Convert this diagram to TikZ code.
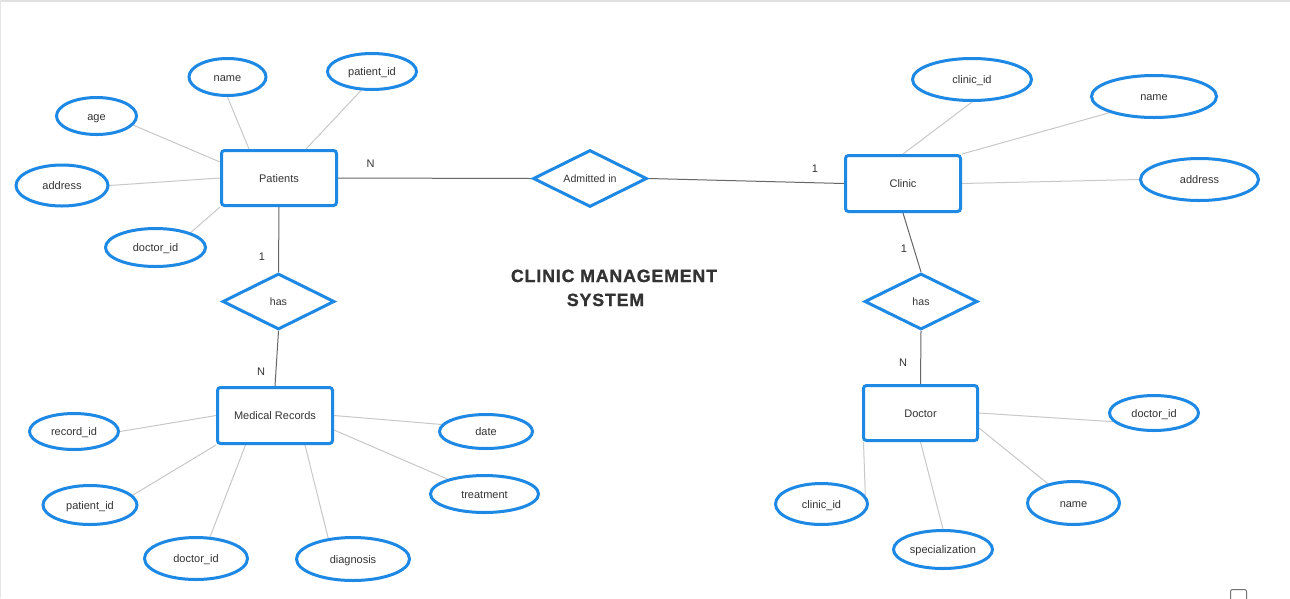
\documentclass[tikz,border=0pt]{standalone}
\usepackage{fontspec}
\setmainfont{Liberation Sans}
\usetikzlibrary{shapes.geometric,calc,backgrounds}
\definecolor{erblue}{HTML}{1E88E5}
\definecolor{txt}{HTML}{333333}
\definecolor{rellc}{HTML}{666666}
\definecolor{attrlc}{HTML}{C8C8C8}
\begin{document}
\begin{tikzpicture}[x=1pt,y=-1pt,
  entity/.style={draw=erblue, line width=3pt, rounded corners=3pt, fill=white, inner sep=0pt,
    text=txt, font=\fontsize{11}{13}\selectfont, text height=10.5pt, text depth=2pt},
  attrib/.style={ellipse, draw=erblue, line width=3pt, fill=white, inner sep=0pt,
    text=txt, font=\fontsize{11}{13}\selectfont, text height=10.5pt, text depth=2pt},
  relship/.style={diamond, aspect=2, draw=erblue, line width=3pt, fill=white, inner sep=0pt,
    text=txt, font=\fontsize{10.6}{13}\selectfont, text height=10.5pt, text depth=2pt},
  card/.style={text=txt, font=\fontsize{11}{13}\selectfont, inner sep=0pt},
  titletext/.style={text=txt, font=\fontsize{17.7}{22}\selectfont\bfseries\addfontfeature{LetterSpace=5,FakeBold=1.2}, inner sep=0pt},
  relline/.style={draw=rellc, line width=1pt},
  attrline/.style={draw=attrlc, line width=1pt}
]
\path[use as bounding box] (0,0) rectangle (1290,598);
\path[clip] (0,0) rectangle (1290,598);

% Entities
\node[entity, minimum width=115pt, minimum height=55pt] (pat) at (279,178) {Patients};
\node[entity, minimum width=115pt, minimum height=56pt] (cli) at (903,183.5) {Clinic};
\node[entity, minimum width=115pt, minimum height=56pt] (mr) at (275,415.5) {Medical Records};
\node[entity, minimum width=114pt, minimum height=55pt] (doc) at (920.5,413) {Doctor};

% Relationships
\node[relship, minimum width=114pt, minimum height=57pt] (adm) at (590,178.5) {Admitted in};
\node[relship, minimum width=112pt, minimum height=56pt] (hasl) at (278.5,301.5) {has};
\node[relship, minimum width=113pt, minimum height=56pt] (hasr) at (921,301.5) {has};

% Patients attributes
\node[attrib, minimum width=77pt, minimum height=37pt] (pname) at (227.5,77) {name};
\node[attrib, minimum width=89pt, minimum height=36pt] (ppid) at (372,71.5) {patient\_id};
\node[attrib, minimum width=80pt, minimum height=37pt] (page) at (96.5,116) {age};
\node[attrib, minimum width=92pt, minimum height=41pt] (paddr) at (62,185.5) {address};
\node[attrib, minimum width=100pt, minimum height=38pt] (pdid) at (155.5,247.5) {doctor\_id};

% Clinic attributes
\node[attrib, minimum width=119pt, minimum height=42pt] (cid) at (972,79.5) {clinic\_id};
\node[attrib, minimum width=125pt, minimum height=42pt] (cname) at (1154,96.5) {name};
\node[attrib, minimum width=118pt, minimum height=42pt] (caddr) at (1199.5,179.5) {address};

% Medical Records attributes
\node[attrib, minimum width=89pt, minimum height=36pt] (rid) at (74,431.5) {record\_id};
\node[attrib, minimum width=94pt, minimum height=39pt] (rpid) at (90,505) {patient\_id};
\node[attrib, minimum width=103pt, minimum height=42pt] (rdid) at (196,558.5) {doctor\_id};
\node[attrib, minimum width=113pt, minimum height=43pt] (rdiag) at (353,559) {diagnosis};
\node[attrib, minimum width=93pt, minimum height=34pt] (rdate) at (486,431.5) {date};
\node[attrib, minimum width=108pt, minimum height=37pt] (rtreat) at (484.5,494) {treatment};

% Doctor attributes
\node[attrib, minimum width=89pt, minimum height=35pt] (did) at (1154,413) {doctor\_id};
\node[attrib, minimum width=92pt, minimum height=43pt] (dname) at (1073.5,503) {name};
\node[attrib, minimum width=92pt, minimum height=41pt] (dcid) at (821.5,504) {clinic\_id};
\node[attrib, minimum width=99pt, minimum height=38pt] (dspec) at (943,549.5) {specialization};

% Cardinalities
\node[card] (c1) at (370.5,164) {N};
\node[card] (c2) at (815,169) {1};
\node[card] (c3) at (262,257) {1};
\node[card] (c4) at (261,372) {N};
\node[card] (c5) at (904,249) {1};
\node[card] (c6) at (903,363) {N};

% Title
\node[titletext, anchor=base] (t1) at (614,282) {CLINIC MANAGEMENT};
\node[titletext, anchor=base] (t2) at (605.5,306) {SYSTEM};

\begin{scope}[on background layer]
  \fill[white] (0,0) rectangle (1290,598);
  \fill[black!12] (0,0) rectangle (1290,2);
  \fill[black!10] (0,0) rectangle (1.2,598);
  % relationship lines
  \draw[relline] (pat.east) -- (adm.west);
  \draw[relline] (adm.east) -- (cli.west);
  \draw[relline] (pat.south) -- (hasl.north);
  \draw[relline] (hasl.south) -- (mr.north);
  \draw[relline] (cli.south) -- (hasr.north);
  \draw[relline] (hasr.south) -- (doc.north);
  % Patients attributes
  \draw[attrline] ($(pat.west)+(0,-16)$) -- (page.346);
  \draw[attrline] ($(pat.north)+(-30,0)$) -- (pname.south);
  \draw[attrline] ($(pat.north)+(27,0)$) -- (ppid.240);
  \draw[attrline] (pat.west) -- (paddr.east);
  \draw[attrline] (pat.south west) -- (pdid.23);
  % Clinic attributes
  \draw[attrline] (cli.north) -- (cid.south);
  \draw[attrline] (cli.north east) -- (cname.200);
  \draw[attrline] (cli.east) -- (caddr.west);
  % Medical Records attributes
  \draw[attrline] (mr.west) -- (rid.east);
  \draw[attrline] (mr.south west) -- (rpid.13);
  \draw[attrline] ($(mr.south)+(-29.5,0)$) -- (rdid.57);
  \draw[attrline] ($(mr.south)+(30,0)$) -- (rdiag.140);
  \draw[attrline] (mr.east) -- (rdate.171);
  \draw[attrline] ($(mr.east)+(0,14.5)$) -- (rtreat.158);
  % Doctor attributes
  \draw[attrline] (doc.east) -- (did.192);
  \draw[attrline] ($(doc.east)+(0,15)$) -- (dname.143);
  \draw[attrline] ($(doc.south west)+(1.5,0)$) -- (dcid.11);
  \draw[attrline] (doc.south) -- (dspec.north);
\end{scope}

% corner widget
\draw[draw=black!55, line width=1pt, rounded corners=2pt] (1230.5,589.5) rectangle (1246.5,606);
\end{tikzpicture}
\end{document}
